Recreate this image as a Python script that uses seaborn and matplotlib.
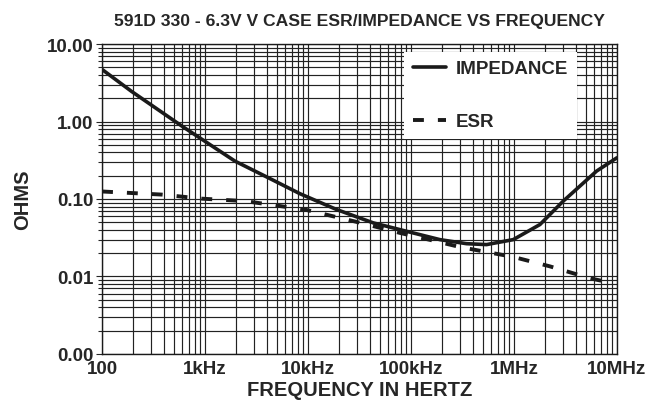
import numpy as np
import pandas as pd
import seaborn as sns
import matplotlib.pyplot as plt
from matplotlib.ticker import LogLocator, FixedLocator, FixedFormatter, NullFormatter

# data
imp_freq = [100, 194, 594, 1955, 4120, 8360, 11260, 18980, 43000, 90700,
            191000, 347000, 543000, 985000, 1790000, 3010000, 6350000, 10000000]
imp_ohms = [4.7, 2.44, 0.876, 0.308, 0.188, 0.117, 0.0986, 0.0731, 0.0492, 0.0383,
            0.0299, 0.0265, 0.0258, 0.0299, 0.0468, 0.0937, 0.229, 0.34]

esr_freq = [100, 380, 930, 2440, 9350, 29600, 78200, 165000, 299000, 543000,
            985000, 2240000, 5470000, 9000000]
esr_ohms = [0.125, 0.114, 0.101, 0.094, 0.073, 0.0507, 0.0365, 0.029, 0.024, 0.0207,
            0.0179, 0.0135, 0.0095, 0.0082]

x_ticks = [100, 1e3, 1e4, 1e5, 1e6, 1e7]
x_labels = ['100', '1kHz', '10kHz', '100kHz', '1MHz', '10MHz']
y_ticks = [0.001, 0.01, 0.1, 1, 10]
y_labels = ['0.00', '0.01', '0.10', '1.00', '10.00']

sns.set_style('white')
plt.rcParams['font.family'] = ['Liberation Sans', 'DejaVu Sans']
plt.rcParams['font.weight'] = 'bold'

imp_df = pd.DataFrame({'freq': imp_freq, 'ohms': imp_ohms})
esr_df = pd.DataFrame({'freq': esr_freq, 'ohms': esr_ohms})

fig = plt.figure(figsize=(6.5, 4.02), dpi=100)
ax = fig.add_axes([0.157, 0.117, 0.792, 0.771])

sns.lineplot(data=imp_df, x='freq', y='ohms', ax=ax, color='#1a1a1a', lw=2.6,
             label='IMPEDANCE', zorder=5)
sns.lineplot(data=esr_df, x='freq', y='ohms', ax=ax, color='#1a1a1a', lw=2.8,
             label='ESR', zorder=5, dashes=False, linestyle=(0, (2.8, 3.6)))

ax.set_xscale('log')
ax.set_yscale('log')
ax.set_xlim(100, 1e7)
ax.set_ylim(0.001, 10)

ax.xaxis.set_major_locator(FixedLocator(x_ticks))
ax.xaxis.set_major_formatter(FixedFormatter(x_labels))
ax.yaxis.set_major_locator(FixedLocator(y_ticks))
ax.yaxis.set_major_formatter(FixedFormatter(y_labels))
ax.xaxis.set_minor_locator(LogLocator(base=10, subs=np.arange(2, 10), numticks=20))
ax.yaxis.set_minor_locator(LogLocator(base=10, subs=np.arange(2, 10), numticks=20))
ax.xaxis.set_minor_formatter(NullFormatter())
ax.yaxis.set_minor_formatter(NullFormatter())

ax.grid(True, which='both', color='#222222', lw=0.85)
ax.tick_params(axis='x', which='both', length=0, labelsize=13.5, pad=4.5)
ax.tick_params(axis='y', which='major', length=4, width=0.8, labelsize=13.5, pad=2, left=True)
ax.tick_params(axis='y', which='minor', length=3, width=0.8, left=True)
for s in ax.spines.values():
    s.set_color('#1a1a1a')
    s.set_linewidth(1.0)

ax.set_xlabel('FREQUENCY IN HERTZ', fontsize=14.5, fontweight='bold', labelpad=2)
ax.set_ylabel('OHMS', fontsize=14.5, fontweight='bold', labelpad=11)
ax.set_title('591D 330 - 6.3V V CASE ESR/IMPEDANCE VS FREQUENCY', fontsize=12.6,
             fontweight='bold', pad=14)

leg = ax.legend(loc='upper right', bbox_to_anchor=(0.922, 0.975), frameon=True,
                facecolor='white', edgecolor='none', framealpha=1, fancybox=False,
                handlelength=1.75, handletextpad=0.55, labelspacing=1.9,
                borderpad=0.45, borderaxespad=0,
                prop={'weight': 'bold', 'size': 13.5})
leg.set_zorder(10)

fig.savefig('out.png', dpi=100)
